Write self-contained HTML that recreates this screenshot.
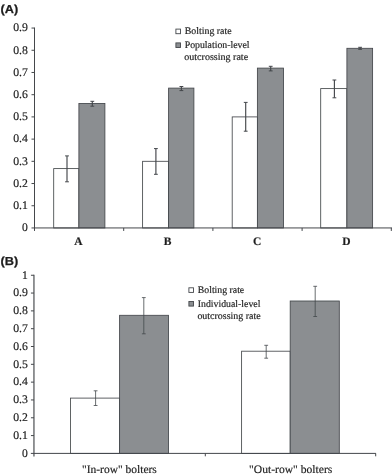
<!DOCTYPE html><html><head><meta charset="utf-8"><style>
html,body{margin:0;padding:0;background:#fff;}svg{display:block}
text{font-family:"Liberation Serif",serif;fill:#1e1e1e;stroke:#1e1e1e;stroke-width:0.18px;text-rendering:geometricPrecision}
.s{font-family:"Liberation Sans",sans-serif;font-weight:bold;font-size:11.6px;stroke:#1e1e1e;stroke-width:0.25px}
.t{font-size:11.6px;text-anchor:end}.l{font-size:10px}.c{font-size:11.5px;text-anchor:middle}.cb{font-size:11.5px;font-weight:bold;text-anchor:middle}
line,rect{shape-rendering:auto}
</style></head><body>
<svg width="392" height="475" viewBox="0 0 392 475">
<rect width="392" height="475" fill="#fff"/>
<defs><filter id="bl" x="0" y="0" width="392" height="475" filterUnits="userSpaceOnUse"><feGaussianBlur stdDeviation="0.3"/></filter></defs>
<g filter="url(#bl)">
<text class="s" x="0.5" y="13.2" textLength="17.7" lengthAdjust="spacingAndGlyphs">(A)</text>
<rect x="53.70" y="168.60" width="25.20" height="59.35" fill="#fff" stroke="#44474b" stroke-width="0.85"/>
<rect x="78.90" y="103.50" width="26.00" height="124.45" fill="#8b8e91" stroke="#44474b" stroke-width="0.85"/>
<line x1="67.00" y1="155.90" x2="67.00" y2="181.80" stroke="#44474b" stroke-width="1.15"/>
<line x1="65.10" y1="155.90" x2="68.90" y2="155.90" stroke="#44474b" stroke-width="1.00"/>
<line x1="65.10" y1="181.80" x2="68.90" y2="181.80" stroke="#44474b" stroke-width="1.00"/>
<line x1="92.30" y1="101.30" x2="92.30" y2="106.20" stroke="#44474b" stroke-width="1.15"/>
<line x1="90.40" y1="101.30" x2="94.20" y2="101.30" stroke="#44474b" stroke-width="1.00"/>
<line x1="90.40" y1="106.20" x2="94.20" y2="106.20" stroke="#44474b" stroke-width="1.00"/>
<text class="cb" x="78.30" y="244.9">A</text>
<rect x="142.60" y="161.30" width="26.00" height="66.65" fill="#fff" stroke="#44474b" stroke-width="0.85"/>
<rect x="168.60" y="88.10" width="25.30" height="139.85" fill="#8b8e91" stroke="#44474b" stroke-width="0.85"/>
<line x1="155.90" y1="148.60" x2="155.90" y2="174.30" stroke="#44474b" stroke-width="1.15"/>
<line x1="154.00" y1="148.60" x2="157.80" y2="148.60" stroke="#44474b" stroke-width="1.00"/>
<line x1="154.00" y1="174.30" x2="157.80" y2="174.30" stroke="#44474b" stroke-width="1.00"/>
<line x1="181.40" y1="86.50" x2="181.40" y2="90.60" stroke="#44474b" stroke-width="1.15"/>
<line x1="179.50" y1="86.50" x2="183.30" y2="86.50" stroke="#44474b" stroke-width="1.00"/>
<line x1="179.50" y1="90.60" x2="183.30" y2="90.60" stroke="#44474b" stroke-width="1.00"/>
<text class="cb" x="167.60" y="244.9">B</text>
<rect x="232.20" y="116.90" width="25.20" height="111.05" fill="#fff" stroke="#44474b" stroke-width="0.85"/>
<rect x="257.40" y="68.10" width="26.10" height="159.85" fill="#8b8e91" stroke="#44474b" stroke-width="0.85"/>
<line x1="245.70" y1="102.40" x2="245.70" y2="131.20" stroke="#44474b" stroke-width="1.15"/>
<line x1="243.80" y1="102.40" x2="247.60" y2="102.40" stroke="#44474b" stroke-width="1.00"/>
<line x1="243.80" y1="131.20" x2="247.60" y2="131.20" stroke="#44474b" stroke-width="1.00"/>
<line x1="270.70" y1="66.30" x2="270.70" y2="70.90" stroke="#44474b" stroke-width="1.15"/>
<line x1="268.80" y1="66.30" x2="272.60" y2="66.30" stroke="#44474b" stroke-width="1.00"/>
<line x1="268.80" y1="70.90" x2="272.60" y2="70.90" stroke="#44474b" stroke-width="1.00"/>
<text class="cb" x="257.10" y="244.9">C</text>
<rect x="320.70" y="88.60" width="26.20" height="139.35" fill="#fff" stroke="#44474b" stroke-width="0.85"/>
<rect x="346.90" y="48.30" width="25.70" height="179.65" fill="#8b8e91" stroke="#44474b" stroke-width="0.85"/>
<line x1="334.40" y1="80.00" x2="334.40" y2="97.80" stroke="#44474b" stroke-width="1.15"/>
<line x1="332.50" y1="80.00" x2="336.30" y2="80.00" stroke="#44474b" stroke-width="1.00"/>
<line x1="332.50" y1="97.80" x2="336.30" y2="97.80" stroke="#44474b" stroke-width="1.00"/>
<line x1="360.10" y1="47.30" x2="360.10" y2="49.30" stroke="#44474b" stroke-width="1.15"/>
<line x1="358.20" y1="47.30" x2="362.00" y2="47.30" stroke="#44474b" stroke-width="1.00"/>
<line x1="358.20" y1="49.30" x2="362.00" y2="49.30" stroke="#44474b" stroke-width="1.00"/>
<text class="cb" x="346.40" y="244.9">D</text>
<line x1="34.50" y1="27.56" x2="34.50" y2="228.45" stroke="#44474b" stroke-width="1.00"/>
<line x1="31.50" y1="227.95" x2="392.00" y2="227.95" stroke="#44474b" stroke-width="1.00"/>
<text class="t" x="27.9" y="231.30">0</text>
<line x1="31.50" y1="205.74" x2="34.50" y2="205.74" stroke="#44474b" stroke-width="1.00"/>
<text class="t" x="27.9" y="209.09" textLength="14.7" lengthAdjust="spacingAndGlyphs">0.1</text>
<line x1="31.50" y1="183.53" x2="34.50" y2="183.53" stroke="#44474b" stroke-width="1.00"/>
<text class="t" x="27.9" y="186.88" textLength="14.7" lengthAdjust="spacingAndGlyphs">0.2</text>
<line x1="31.50" y1="161.32" x2="34.50" y2="161.32" stroke="#44474b" stroke-width="1.00"/>
<text class="t" x="27.9" y="164.67" textLength="14.7" lengthAdjust="spacingAndGlyphs">0.3</text>
<line x1="31.50" y1="139.11" x2="34.50" y2="139.11" stroke="#44474b" stroke-width="1.00"/>
<text class="t" x="27.9" y="142.46" textLength="14.7" lengthAdjust="spacingAndGlyphs">0.4</text>
<line x1="31.50" y1="116.90" x2="34.50" y2="116.90" stroke="#44474b" stroke-width="1.00"/>
<text class="t" x="27.9" y="120.25" textLength="14.7" lengthAdjust="spacingAndGlyphs">0.5</text>
<line x1="31.50" y1="94.69" x2="34.50" y2="94.69" stroke="#44474b" stroke-width="1.00"/>
<text class="t" x="27.9" y="98.04" textLength="14.7" lengthAdjust="spacingAndGlyphs">0.6</text>
<line x1="31.50" y1="72.48" x2="34.50" y2="72.48" stroke="#44474b" stroke-width="1.00"/>
<text class="t" x="27.9" y="75.83" textLength="14.7" lengthAdjust="spacingAndGlyphs">0.7</text>
<line x1="31.50" y1="50.27" x2="34.50" y2="50.27" stroke="#44474b" stroke-width="1.00"/>
<text class="t" x="27.9" y="53.62" textLength="14.7" lengthAdjust="spacingAndGlyphs">0.8</text>
<line x1="31.50" y1="28.06" x2="34.50" y2="28.06" stroke="#44474b" stroke-width="1.00"/>
<text class="t" x="27.9" y="31.41" textLength="14.7" lengthAdjust="spacingAndGlyphs">0.9</text>
<line x1="34.50" y1="227.95" x2="34.50" y2="230.95" stroke="#44474b" stroke-width="1.00"/>
<line x1="123.70" y1="227.95" x2="123.70" y2="230.95" stroke="#44474b" stroke-width="1.00"/>
<line x1="212.90" y1="227.95" x2="212.90" y2="230.95" stroke="#44474b" stroke-width="1.00"/>
<line x1="302.10" y1="227.95" x2="302.10" y2="230.95" stroke="#44474b" stroke-width="1.00"/>
<line x1="391.30" y1="227.95" x2="391.30" y2="230.95" stroke="#44474b" stroke-width="1.00"/>
<rect x="175.90" y="29.10" width="4.6" height="4.6" fill="#fff" stroke="#44474b" stroke-width="0.9"/>
<rect x="175.90" y="42.90" width="4.6" height="4.6" fill="#8b8e91" stroke="#44474b" stroke-width="0.9"/>
<text class="l" x="184.7" y="34.4" textLength="46.9" lengthAdjust="spacingAndGlyphs">Bolting rate</text>
<text class="l" x="184.7" y="47.6" textLength="64.9" lengthAdjust="spacingAndGlyphs">Population-level</text>
<text class="l" x="184.3" y="59.9" textLength="63.8" lengthAdjust="spacingAndGlyphs">outcrossing rate</text>
<text class="s" x="0.5" y="265.4" textLength="17.7" lengthAdjust="spacingAndGlyphs">(B)</text>
<rect x="70.50" y="398.10" width="49.10" height="55.30" fill="#fff" stroke="#44474b" stroke-width="0.85"/>
<rect x="119.60" y="315.30" width="48.90" height="138.10" fill="#8b8e91" stroke="#44474b" stroke-width="0.85"/>
<line x1="95.60" y1="390.80" x2="95.60" y2="405.50" stroke="#44474b" stroke-width="0.80"/>
<line x1="93.70" y1="390.80" x2="97.50" y2="390.80" stroke="#44474b" stroke-width="0.80"/>
<line x1="93.70" y1="405.50" x2="97.50" y2="405.50" stroke="#44474b" stroke-width="0.80"/>
<line x1="143.80" y1="297.60" x2="143.80" y2="333.80" stroke="#44474b" stroke-width="0.80"/>
<line x1="141.90" y1="297.60" x2="145.70" y2="297.60" stroke="#44474b" stroke-width="0.80"/>
<line x1="141.90" y1="333.80" x2="145.70" y2="333.80" stroke="#44474b" stroke-width="0.80"/>
<text class="c" x="119.40" y="472.6" textLength="74.9" lengthAdjust="spacingAndGlyphs">"In-row" bolters</text>
<rect x="241.60" y="351.20" width="48.60" height="102.20" fill="#fff" stroke="#44474b" stroke-width="0.85"/>
<rect x="290.20" y="301.00" width="49.10" height="152.40" fill="#8b8e91" stroke="#44474b" stroke-width="0.85"/>
<line x1="266.20" y1="345.30" x2="266.20" y2="358.20" stroke="#44474b" stroke-width="0.80"/>
<line x1="264.30" y1="345.30" x2="268.10" y2="345.30" stroke="#44474b" stroke-width="0.80"/>
<line x1="264.30" y1="358.20" x2="268.10" y2="358.20" stroke="#44474b" stroke-width="0.80"/>
<line x1="315.20" y1="286.30" x2="315.20" y2="316.50" stroke="#44474b" stroke-width="0.80"/>
<line x1="313.30" y1="286.30" x2="317.10" y2="286.30" stroke="#44474b" stroke-width="0.80"/>
<line x1="313.30" y1="316.50" x2="317.10" y2="316.50" stroke="#44474b" stroke-width="0.80"/>
<text class="c" x="290.70" y="472.6" textLength="83.2" lengthAdjust="spacingAndGlyphs">"Out-row" bolters</text>
<line x1="33.95" y1="274.85" x2="33.95" y2="456.40" stroke="#44474b" stroke-width="1.15"/>
<line x1="30.85" y1="453.40" x2="375.90" y2="453.40" stroke="#44474b" stroke-width="1.00"/>
<text class="t" x="27.9" y="456.75">0</text>
<line x1="30.95" y1="435.58" x2="33.95" y2="435.58" stroke="#44474b" stroke-width="1.00"/>
<text class="t" x="27.9" y="438.94" textLength="14.7" lengthAdjust="spacingAndGlyphs">0.1</text>
<line x1="30.95" y1="417.77" x2="33.95" y2="417.77" stroke="#44474b" stroke-width="1.00"/>
<text class="t" x="27.9" y="421.12" textLength="14.7" lengthAdjust="spacingAndGlyphs">0.2</text>
<line x1="30.95" y1="399.95" x2="33.95" y2="399.95" stroke="#44474b" stroke-width="1.00"/>
<text class="t" x="27.9" y="403.31" textLength="14.7" lengthAdjust="spacingAndGlyphs">0.3</text>
<line x1="30.95" y1="382.14" x2="33.95" y2="382.14" stroke="#44474b" stroke-width="1.00"/>
<text class="t" x="27.9" y="385.49" textLength="14.7" lengthAdjust="spacingAndGlyphs">0.4</text>
<line x1="30.95" y1="364.32" x2="33.95" y2="364.32" stroke="#44474b" stroke-width="1.00"/>
<text class="t" x="27.9" y="367.68" textLength="14.7" lengthAdjust="spacingAndGlyphs">0.5</text>
<line x1="30.95" y1="346.51" x2="33.95" y2="346.51" stroke="#44474b" stroke-width="1.00"/>
<text class="t" x="27.9" y="349.86" textLength="14.7" lengthAdjust="spacingAndGlyphs">0.6</text>
<line x1="30.95" y1="328.69" x2="33.95" y2="328.69" stroke="#44474b" stroke-width="1.00"/>
<text class="t" x="27.9" y="332.05" textLength="14.7" lengthAdjust="spacingAndGlyphs">0.7</text>
<line x1="30.95" y1="310.88" x2="33.95" y2="310.88" stroke="#44474b" stroke-width="1.00"/>
<text class="t" x="27.9" y="314.23" textLength="14.7" lengthAdjust="spacingAndGlyphs">0.8</text>
<line x1="30.95" y1="293.06" x2="33.95" y2="293.06" stroke="#44474b" stroke-width="1.00"/>
<text class="t" x="27.9" y="296.41" textLength="14.7" lengthAdjust="spacingAndGlyphs">0.9</text>
<line x1="30.95" y1="275.25" x2="33.95" y2="275.25" stroke="#44474b" stroke-width="1.00"/>
<text class="t" x="27.9" y="278.60">1</text>
<line x1="205.30" y1="453.40" x2="205.30" y2="456.30" stroke="#44474b" stroke-width="1.00"/>
<line x1="375.70" y1="453.40" x2="375.70" y2="456.30" stroke="#44474b" stroke-width="1.00"/>
<rect x="188.90" y="287.80" width="4.6" height="4.6" fill="#fff" stroke="#44474b" stroke-width="0.9"/>
<rect x="188.90" y="301.50" width="4.6" height="4.6" fill="#8b8e91" stroke="#44474b" stroke-width="0.9"/>
<text class="l" x="197.8" y="293" textLength="46.4" lengthAdjust="spacingAndGlyphs">Bolting rate</text>
<text class="l" x="197.8" y="306.9" textLength="62.6" lengthAdjust="spacingAndGlyphs">Individual-level</text>
<text class="l" x="197.4" y="318.7" textLength="63.3" lengthAdjust="spacingAndGlyphs">outcrossing rate</text>
</g></svg></body></html>
